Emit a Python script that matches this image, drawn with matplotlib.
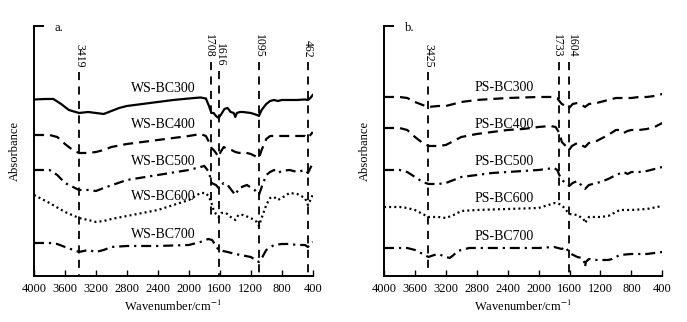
import numpy as np
import matplotlib
matplotlib.use("Agg")
import matplotlib.pyplot as plt

plt.rcParams['font.family'] = ['Liberation Serif', 'DejaVu Serif']
plt.rcParams['mathtext.fontset'] = 'stix'

# wavenumber / relative absorbance (arbitrary offset units)
ws300_x = [4000, 3850, 3750, 3650, 3550, 3419, 3300, 3200, 3100, 3000, 2900, 2800, 2600, 2400, 2200, 2000,
           1850, 1780, 1740, 1708, 1680, 1650, 1616, 1580, 1540, 1500, 1460, 1420, 1400, 1380, 1340, 1300,
           1200, 1120, 1095, 1060, 1000, 950, 900, 850, 800, 700, 600, 500, 462, 430, 400]
ws300_y = [176.5, 177, 177, 172, 166, 163, 164, 163, 162, 165, 168, 170, 172, 174, 176, 177.5,
           178.5, 177.5, 170, 163, 163, 160, 158, 162, 167, 168, 164, 163, 159, 163, 164, 164,
           163, 161, 160, 166, 172, 175, 176, 175, 176, 176, 176, 176.5, 176, 178, 181]

ws400_x = [4000, 3800, 3700, 3600, 3500, 3419, 3300, 3200, 3100, 3000, 2800, 2600, 2400, 2200, 2000, 1850,
           1780, 1740, 1708, 1680, 1650, 1616, 1590, 1550, 1500, 1450, 1400, 1350, 1300, 1200, 1120, 1095,
           1060, 1000, 950, 900, 800, 700, 600, 500, 462, 430, 400]
ws400_y = [141, 141, 139, 132, 126, 123, 123, 124, 126, 129, 132, 134, 136, 138, 140, 142,
           140, 134, 128, 126, 123, 119, 124, 129, 127, 126, 124, 123, 124, 122, 119, 118,
           126, 137, 140, 140, 140, 140, 140, 140, 138, 141, 144]

ws500_x = [4000, 3800, 3700, 3600, 3419, 3300, 3200, 3100, 2800, 2400, 2000, 1800, 1740, 1708, 1650, 1616,
           1550, 1500, 1400, 1350, 1250, 1150, 1095, 1050, 1000, 950, 900, 850, 800, 700, 600, 500,
           462, 430, 400]
ws500_y = [106, 106, 101, 93, 86, 86, 85, 88, 96, 101, 106, 110, 104, 93, 91, 88,
           93, 91, 81, 88, 91, 86, 81, 91, 101, 104, 106, 103, 105, 106, 104, 106,
           103, 108, 113]

ws600_x = [4000, 3800, 3600, 3419, 3300, 3200, 3100, 3000, 2800, 2400, 2000, 1850, 1780, 1740, 1708, 1680,
           1650, 1616, 1580, 1520, 1460, 1400, 1360, 1300, 1200, 1120, 1095, 1060, 1000, 950, 900, 850,
           800, 700, 600, 500, 462, 430, 400]
ws600_y = [81, 73, 64, 58, 56, 54, 55, 57, 60, 66, 76, 83, 83, 79, 73, 66,
           62, 59, 63, 63, 59, 56, 61, 61, 58, 54, 50, 58, 71, 78, 79, 76,
           78, 83, 82, 78, 71, 76, 81]

ws700_x = [4000, 3800, 3700, 3600, 3419, 3300, 3200, 3100, 3000, 2800, 2400, 2000, 1850, 1750, 1700, 1616,
           1500, 1400, 1200, 1095, 1050, 1000, 900, 800, 700, 600, 500, 462, 420, 400]
ws700_y = [33, 33, 32, 29, 24, 26, 24, 26, 29, 30, 30, 31, 34, 37, 36, 26,
           24, 22, 19, 14, 19, 26, 31, 32, 32, 31, 31, 29, 33, 34]

ps300_x = [4000, 3800, 3700, 3600, 3500, 3425, 3300, 3200, 3100, 3000, 2800, 2600, 2400, 2200, 2000, 1800,
           1760, 1733, 1700, 1650, 1604, 1560, 1500, 1440, 1400, 1350, 1250, 1200, 1100, 1000, 900, 800,
           700, 600, 500, 400]
ps300_y = [179, 179, 178, 174, 171, 169, 170, 170, 172, 174, 176, 177, 178, 178.5, 179, 179,
           178, 175, 172, 170, 168, 172, 173, 171, 169, 172, 173, 174, 176, 178, 178, 178,
           179, 179, 180, 182]

ps400_x = [4000, 3800, 3700, 3600, 3500, 3425, 3300, 3200, 3100, 3000, 2800, 2600, 2400, 2200, 2000, 1850,
           1780, 1733, 1700, 1650, 1604, 1570, 1500, 1450, 1400, 1350, 1250, 1200, 1100, 1000, 950, 900,
           850, 800, 700, 600, 500, 400]
ps400_y = [148, 148, 146, 139, 133, 130, 130, 131, 135, 139, 142, 144, 146, 147, 149, 150,
           149, 143, 134, 130, 126, 130, 133, 131, 129, 133, 135, 137, 141, 146, 146, 143,
           145, 146, 146, 147, 149, 153]

ps500_x = [4000, 3800, 3700, 3600, 3500, 3425, 3300, 3200, 3100, 3000, 2800, 2600, 2400, 2200, 2000, 1800,
           1760, 1733, 1700, 1650, 1604, 1560, 1500, 1450, 1400, 1350, 1250, 1200, 1100, 1000, 900, 850,
           800, 700, 600, 500, 400]
ps500_y = [106, 106, 104, 99, 94, 92, 92, 93, 96, 99, 101, 103, 104, 105, 106, 108,
           106, 101, 96, 93, 90, 93, 95, 91, 87, 91, 93, 94, 97, 101, 104, 102,
           104, 104, 105, 107, 109]

ps600_x = [4000, 3800, 3700, 3600, 3500, 3425, 3300, 3200, 3100, 3000, 2800, 2400, 2000, 1790, 1733, 1680,
           1604, 1500, 1420, 1400, 1350, 1200, 1100, 1000, 950, 800, 600, 400]
ps600_y = [69, 69, 68, 66, 62, 59, 59, 58, 61, 65, 66, 67, 68, 73, 72, 69,
           62, 61, 57, 53, 59, 59, 60, 64, 66, 66, 67, 70]

ps700_x = [4000, 3800, 3700, 3600, 3500, 3425, 3350, 3300, 3200, 3150, 3100, 3050, 2900, 2800, 2400, 2000,
           1800, 1700, 1650, 1604, 1500, 1440, 1410, 1400, 1390, 1350, 1250, 1100, 1050, 950, 800, 600,
           400]
ps700_y = [28, 28, 28, 26, 22, 19, 21, 22, 19, 18, 21, 25, 28, 28, 28, 28,
           29, 27, 29, 23, 19, 18, 14, 9, 14, 17, 16, 16, 17, 21, 22, 22,
           24]

ws_names = ["WS-BC300", "WS-BC400", "WS-BC500", "WS-BC600", "WS-BC700"]
ps_names = ["PS-BC300", "PS-BC400", "PS-BC500", "PS-BC600", "PS-BC700"]
ws_label_y = [187, 151, 114, 79, 41]
ps_label_y = [188, 151, 114, 77, 39]

ws_peaks = [3419, 1708, 1616, 1095, 462]
ws_peak_top = [208, 218, 209, 218, 218]
ws_peak_end = [0, 56, 0, 0, 0]
ws_text_shift = [0, 28, -22, 0, 0]
ps_peaks = [3425, 1733, 1604]
ps_peak_top = [208, 218, 218]
ps_peak_end = [2, 70, 0]
ps_text_shift = [0, 30, -30]

lw = 1.6
ws_styles = ['-', (0, (4.5, 2.7)), (0, (4.5, 2.2, 1.0, 2.2)), (0, (0.9, 1.4)), (0, (4.5, 2.2, 1.0, 2.2))]
ps_styles = [(0, (4.5, 2.7)), (0, (4.5, 2.7)), (0, (4.5, 2.2, 1.0, 2.2)), (0, (0.9, 1.4)), (0, (4.5, 2.2, 1.0, 2.2))]

fig = plt.figure(figsize=(6.87, 3.22), dpi=100)
ax1 = fig.add_axes([0.0495, 0.1429, 0.4057, 0.7764])
ax2 = fig.add_axes([0.559, 0.1429, 0.4051, 0.7764])


def setup(ax, tag, tag_x):
    ax.set_xlim(4000, 400)
    ax.set_ylim(0, 250)
    for s in ['top', 'right']:
        ax.spines[s].set_visible(False)
    for s in ['left', 'bottom']:
        ax.spines[s].set_linewidth(1.4)
    ax.set_xticks(np.arange(4000, 399, -400))
    ax.tick_params(axis='x', direction='in', length=4, width=1, labelsize=9, pad=5)
    ax.set_yticks([250])
    ax.set_yticklabels([])
    ax.tick_params(axis='y', direction='in', length=7, width=1.4)
    ax.set_xlabel("Wavenumber/cm$^{-1}$", fontsize=9, labelpad=3)
    ax.set_ylabel("Absorbance", fontsize=9, labelpad=6)
    ax.text(tag_x, 248, tag, fontsize=9, va='center', ha='left')


setup(ax1, "a.", 3740)
setup(ax2, "b.", 3730)

ws_x = [ws300_x, ws400_x, ws500_x, ws600_x, ws700_x]
ws_y = [ws300_y, ws400_y, ws500_y, ws600_y, ws700_y]
ps_x = [ps300_x, ps400_x, ps500_x, ps600_x, ps700_x]
ps_y = [ps300_y, ps400_y, ps500_y, ps600_y, ps700_y]

for i in range(5):
    ax1.plot(ws_x[i], ws_y[i], color='black', lw=lw, linestyle=ws_styles[i])
    ax1.text(2327, ws_label_y[i], ws_names[i], fontsize=10, ha='center', va='center')
    ax2.plot(ps_x[i], ps_y[i], color='black', lw=lw, linestyle=ps_styles[i])
    ax2.text(2450, ps_label_y[i], ps_names[i], fontsize=10, ha='center', va='center')

for ax, peaks, tops, ends, shifts in [(ax1, ws_peaks, ws_peak_top, ws_peak_end, ws_text_shift),
                                      (ax2, ps_peaks, ps_peak_top, ps_peak_end, ps_text_shift)]:
    for p, t, e, d in zip(peaks, tops, ends, shifts):
        ax.plot([p, p], [t - 4, e], color='black', lw=1.3, linestyle=(0, (4.5, 3.5)))
        ax.text(p + d, t, str(p), rotation=270, fontsize=8.5, ha='center', va='bottom')

fig.savefig("out.png", dpi=100)
